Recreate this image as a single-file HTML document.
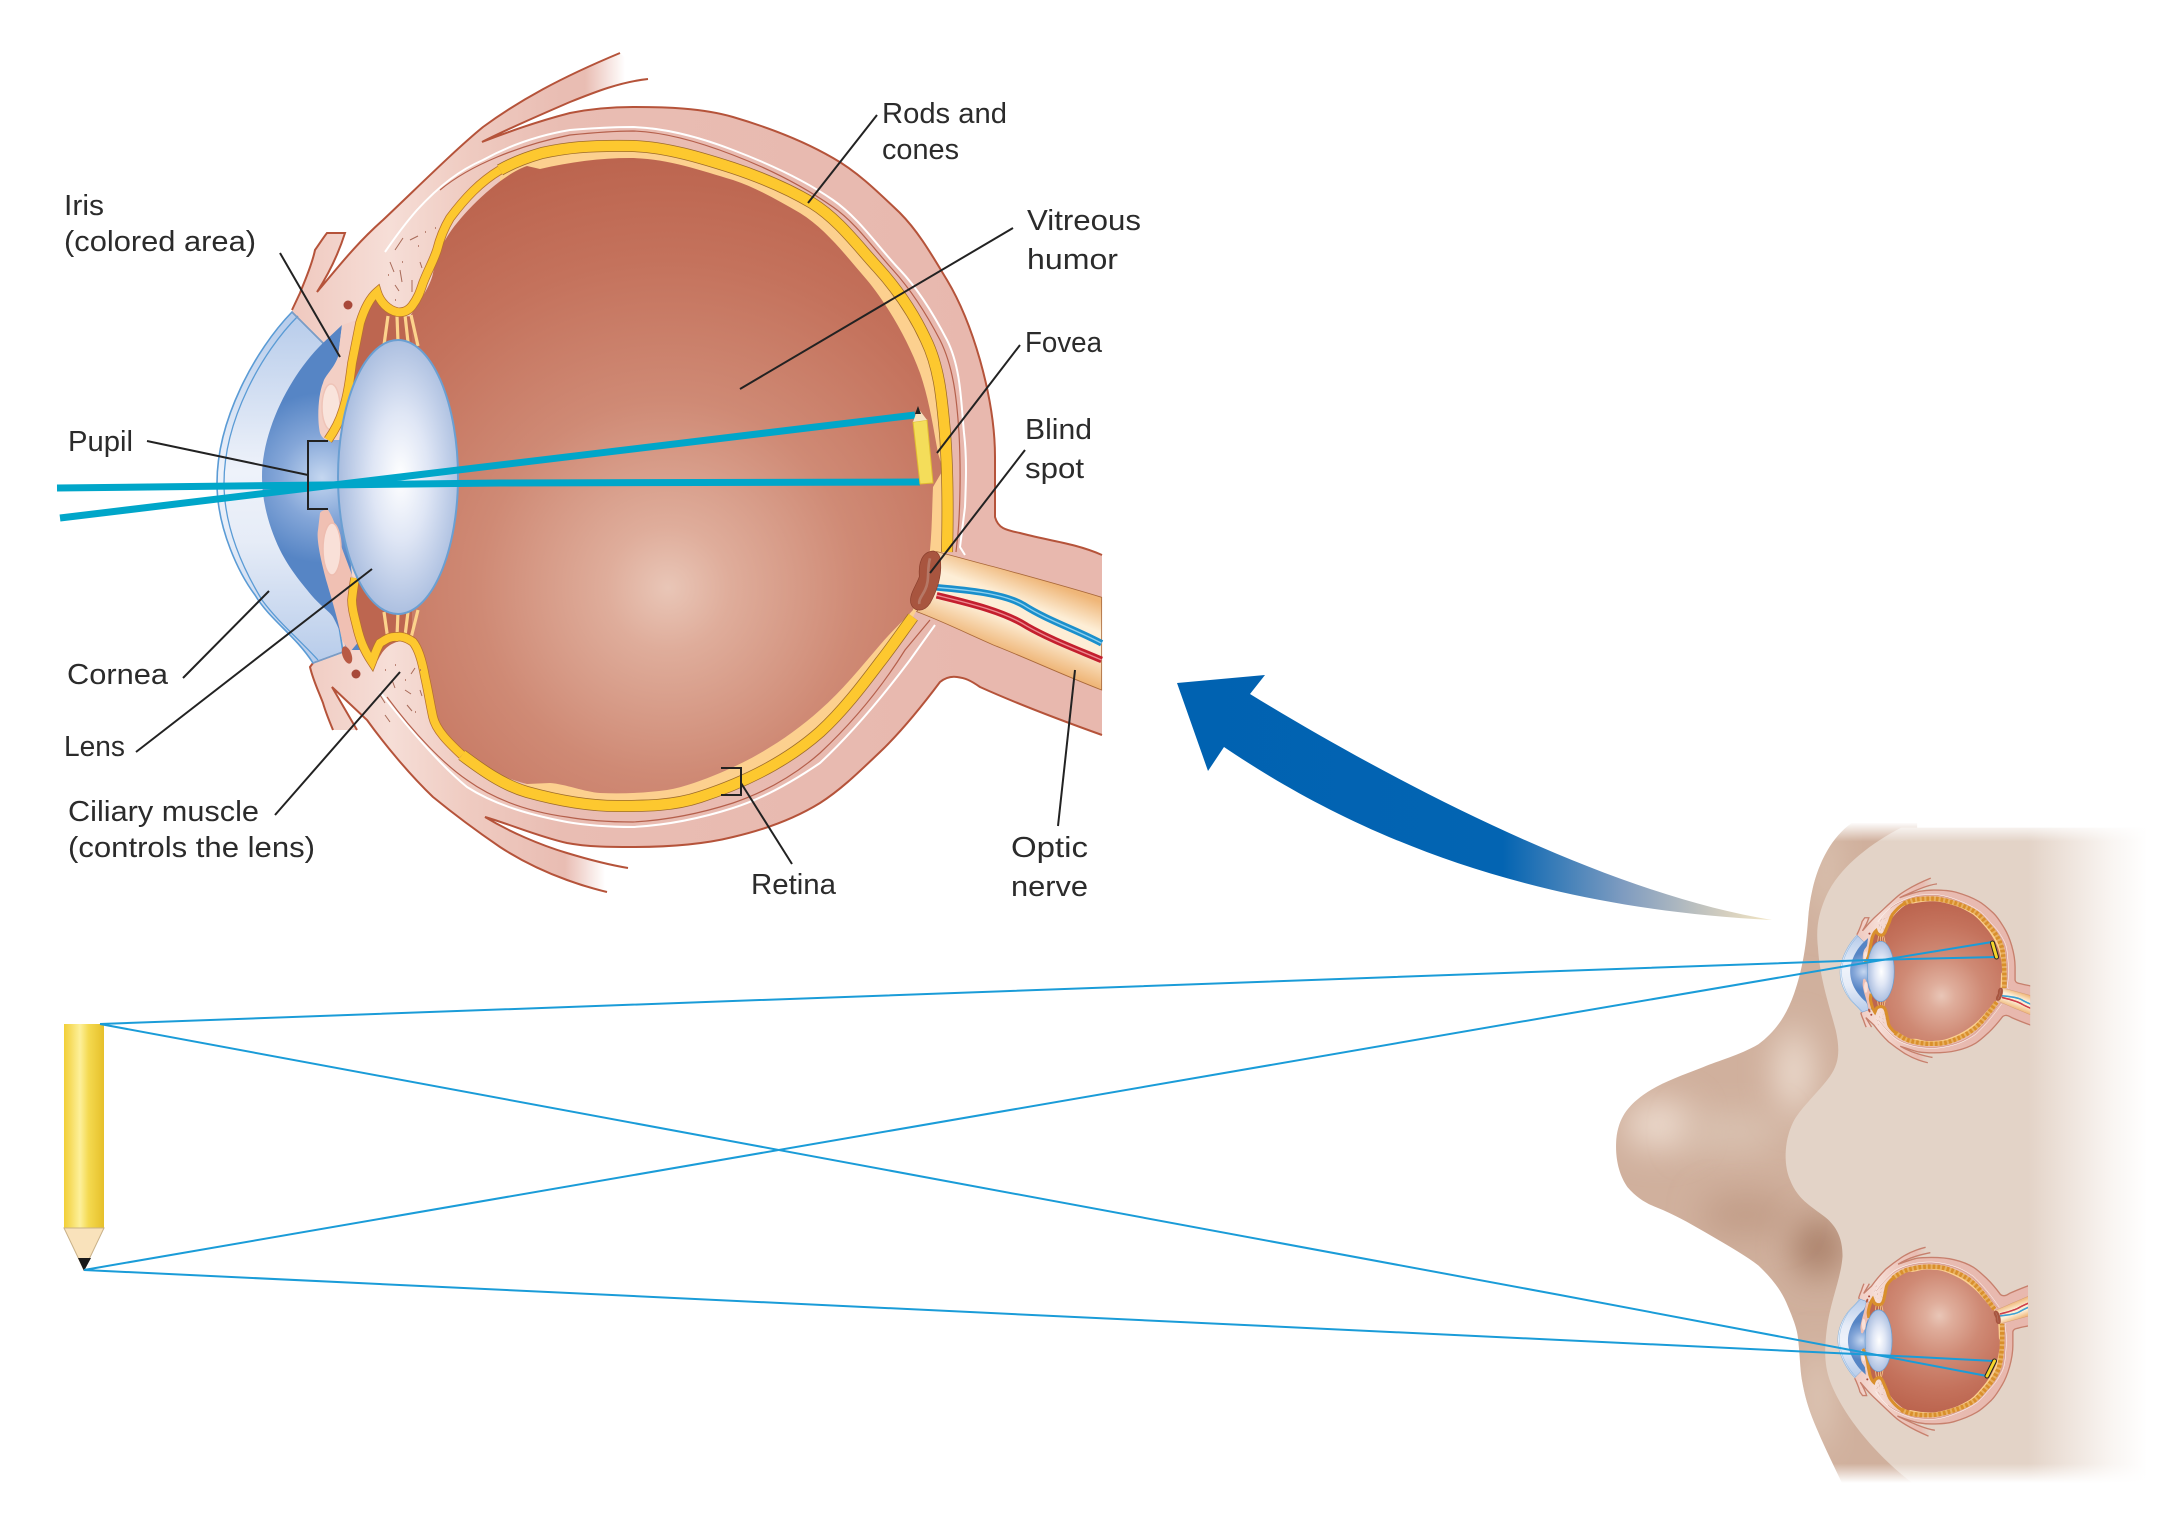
<!DOCTYPE html>
<html><head><meta charset="utf-8"><style>
html,body{margin:0;padding:0;background:#fff}
svg{display:block}
text{font-family:"Liberation Sans",sans-serif;font-size:29px;fill:#2b2b2b}
</style></head><body>
<svg width="2182" height="1523" viewBox="0 0 2182 1523" xmlns="http://www.w3.org/2000/svg">
<defs>
<linearGradient id="scl" gradientUnits="userSpaceOnUse" x1="290" y1="0" x2="1000" y2="0"><stop offset="0" stop-color="#efc8be"/><stop offset=".14" stop-color="#f6ded7"/><stop offset=".25" stop-color="#efcbc1"/><stop offset=".38" stop-color="#e9bdb3"/><stop offset="1" stop-color="#e8b8ae"/></linearGradient>
<radialGradient id="vit" gradientUnits="userSpaceOnUse" cx="668" cy="588" r="470"><stop offset="0" stop-color="#e9c6b7"/><stop offset=".13" stop-color="#dfad9b"/><stop offset=".4" stop-color="#cf8a75"/><stop offset=".7" stop-color="#c4725c"/><stop offset="1" stop-color="#b9604a"/></radialGradient>
<linearGradient id="cor" gradientUnits="userSpaceOnUse" x1="0" y1="312" x2="0" y2="665"><stop offset="0" stop-color="#b6cbea"/><stop offset=".45" stop-color="#eef2fa"/><stop offset=".65" stop-color="#e6ecf7"/><stop offset="1" stop-color="#b6cbea"/></linearGradient>
<radialGradient id="cham" gradientUnits="userSpaceOnUse" cx="322" cy="478" r="85"><stop offset="0" stop-color="#c5d7f0"/><stop offset=".5" stop-color="#84a6d8"/><stop offset="1" stop-color="#5685c5"/></radialGradient>
<radialGradient id="lens" cx=".52" cy=".5" r=".52"><stop offset="0" stop-color="#ffffff"/><stop offset=".45" stop-color="#dfe6f5"/><stop offset="1" stop-color="#a9bddf"/></radialGradient>
<linearGradient id="nerve" gradientUnits="userSpaceOnUse" x1="420" y1="575" x2="335" y2="800"><stop offset="0" stop-color="#efb678"/><stop offset=".35" stop-color="#fdeed6"/><stop offset=".6" stop-color="#fdeed6"/><stop offset="1" stop-color="#efb678"/></linearGradient>
<linearGradient id="fadeT" gradientUnits="userSpaceOnUse" x1="585" y1="0" x2="625" y2="0"><stop offset="0" stop-color="#000" stop-opacity="0"/><stop offset="1" stop-color="#000"/></linearGradient>
<linearGradient id="fadeB" gradientUnits="userSpaceOnUse" x1="565" y1="0" x2="605" y2="0"><stop offset="0" stop-color="#000" stop-opacity="0"/><stop offset="1" stop-color="#000"/></linearGradient>
<mask id="mfade" maskUnits="userSpaceOnUse" x="0" y="0" width="1103" height="1000">
 <rect x="0" y="0" width="1103" height="1000" fill="#fff"/>
 <path d="M570,40L660,40L660,79L570,104Z" fill="url(#fadeT)"/>
 <path d="M555,841L640,872L640,900L555,900Z" fill="url(#fadeB)"/>
</mask>
<clipPath id="smallclip"><rect x="0" y="0" width="1062" height="1000"/></clipPath>
<linearGradient id="arrow" gradientUnits="userSpaceOnUse" x1="1170" y1="0" x2="1775" y2="0"><stop offset="0" stop-color="#0062b1"/><stop offset=".55" stop-color="#0364b2"/><stop offset=".75" stop-color="#7f9cc0"/><stop offset=".92" stop-color="#d5cfbf"/><stop offset="1" stop-color="#f5e8c4"/></linearGradient>
<linearGradient id="pen" x1="0" y1="0" x2="1" y2="0"><stop offset="0" stop-color="#f2cf36"/><stop offset=".4" stop-color="#fdf09a"/><stop offset=".62" stop-color="#f4d94f"/><stop offset="1" stop-color="#e6c02a"/></linearGradient>
<linearGradient id="skin" gradientUnits="userSpaceOnUse" x1="1180" y1="0" x2="1480" y2="0"><stop offset="0" stop-color="#e3d3c7"/><stop offset=".3" stop-color="#ede2da"/><stop offset=".7" stop-color="#f9f5f2"/><stop offset="1" stop-color="#fff"/></linearGradient>
<linearGradient id="fT" x1="0" y1="0" x2="0" y2="1"><stop offset="0" stop-color="#fff"/><stop offset=".3" stop-color="#fff"/><stop offset="1" stop-color="#fff" stop-opacity="0"/></linearGradient>
<linearGradient id="fB" x1="0" y1="1" x2="0" y2="0"><stop offset="0" stop-color="#fff"/><stop offset=".3" stop-color="#fff"/><stop offset="1" stop-color="#fff" stop-opacity="0"/></linearGradient>
<filter id="b40" x="-100%" y="-100%" width="300%" height="300%"><feGaussianBlur stdDeviation="40"/></filter>
<clipPath id="noseclip"><path d="M735,50C670,90 632,170 625,260C620,320 610,370 590,420C570,470 540,505 500,530C450,555 400,565 360,580C300,600 250,615 210,640C170,665 148,690 142,735C138,780 150,815 170,840C200,870 230,880 260,890C300,905 340,925 380,945C430,970 470,990 500,1010C530,1035 555,1060 570,1090C590,1130 598,1150 600,1170C605,1210 605,1235 610,1260C620,1310 635,1340 650,1370C670,1410 690,1445 715,1490L900,1490L900,50Z"/></clipPath>

<path id="sclS" fill="none" d="M292,310L300,293C305,280 312,265 315,250C320,243 323,238 327,233L345,233C338,255 328,275 317,292C340,265 355,245 383,220C420,185 455,150 483,127C520,100 560,78 620,53M648,79C620,82 595,92 570,102C540,115 505,130 482,142C505,133 535,122 570,113C590,109 612,107 633,107C666,107 702,108 733,117C767,127 802,140 833,158C858,172 879,193 900,213C919,232 933,257 947,280C962,305 972,332 980,360C989,392 995,424 995,457L995,517C998,528 1005,530 1020,533C1045,540 1075,543 1102,555M1102,735C1060,720 1020,705 980,687C970,680 965,678 957,677C950,676 945,678 940,682C922,706 902,731 880,752C861,770 842,789 820,803C794,819 763,830 733,837C701,845 666,847 633,847C611,847 588,847 567,843C540,837 512,825 485,817C510,832 540,845 567,853C590,860 610,865 628,868M607,892C590,888 578,884 567,880C545,872 520,860 500,847C478,832 455,815 433,797C410,775 385,745 367,720L332,687L357,730M333,730C328,718 325,710 323,703C318,690 313,680 310,667L313,663"/>

<path id="bandF" fill="none" d="M328,440C335,430 340,420 343,410C348,395 350,378 352,363L360,323C364,310 370,298 377,292C380,302 388,310 397,312C403,313 408,311 412,306C418,298 420,292 423,283C428,270 433,262 437,250C440,238 444,228 450,218C465,198 480,182 500,170M462,755C448,742 436,730 433,717C430,703 428,690 425,677C422,660 418,648 413,642C406,637 400,636 397,637C390,636 385,640 380,643C376,650 374,657 372,662C364,650 360,640 357,627C354,615 352,608 352,600C353,590 354,585 355,578"/>
<path id="bandB" fill="none" d="M500,170C514,162 528,157 542,153C565,148 588,145 633,146C666,147 702,158 733,168C760,177 787,188 812,203C838,219 857,245 878,268C897,289 914,314 926,340C940,369 942,401 945,433C948,473 948,512 947,552M913,617C902,632 891,648 880,662C862,686 842,712 820,732C786,762 743,783 700,797C673,806 645,806 617,806C587,806 556,800 527,792C503,785 482,770 462,755"/>

<g id="eye">
 <!-- sclera fill -->
 <g mask="url(#mfade)">
 <path d="M292,310L300,293C305,280 312,265 315,250C320,243 323,238 327,233L345,233C338,255 328,275 317,292C340,265 355,245 383,220C420,185 455,150 483,127C520,100 560,78 620,53L648,79C620,82 595,92 570,102C540,115 505,130 482,142C505,133 535,122 570,113C590,109 612,107 633,107C666,107 702,108 733,117C767,127 802,140 833,158C858,172 879,193 900,213C919,232 933,257 947,280C962,305 972,332 980,360C989,392 995,424 995,457L995,517C998,528 1005,530 1020,533C1045,540 1075,543 1102,555L1102,735C1060,720 1020,705 980,687C970,680 965,678 957,677C950,676 945,678 940,682C922,706 902,731 880,752C861,770 842,789 820,803C794,819 763,830 733,837C701,845 666,847 633,847C611,847 588,847 567,843C540,837 512,825 485,817C510,832 540,845 567,853C590,860 610,865 628,868L607,892C590,888 578,884 567,880C545,872 520,860 500,847C478,832 455,815 433,797C410,775 385,745 367,720L332,687L357,730L333,730C328,718 325,710 323,703C318,690 313,680 310,667L313,663Z" fill="url(#scl)"/>
 </g>
 <use href="#sclS" stroke="#b5533a" stroke-width="2"/>
 <!-- sclera lines -->
 <path d="M385,252C400,230 410,218 417,210C440,185 460,170 483,160C510,145 540,135 570,130C595,128 615,127 633,127C666,128 702,138 733,150C767,163 803,179 833,200C859,218 878,247 900,270C919,290 934,315 947,340C961,368 961,402 964,433C967,458 966,482 965,507L960,547L965,555" fill="none" stroke="#fff" stroke-width="2"/>
 <path d="M440,190C470,165 520,145 570,135C600,132 620,131 633,131C666,132 702,143 733,155C767,168 803,186 833,207C856,223 873,248 893,270C912,291 927,315 940,340C954,368 957,402 959,433C961,470 960,510 958,533L956,552" fill="none" stroke="#b5604c" stroke-width="1.2"/>
 <path d="M380,692C410,730 440,765 467,787C495,805 530,815 567,822C590,826 610,827 633,827C670,825 705,817 733,808C765,798 795,780 820,763C850,735 880,700 910,660L935,625" fill="none" stroke="#fff" stroke-width="2"/>
 <path d="M387,697C415,735 445,765 467,780C495,800 530,812 567,817C590,821 610,822 633,822C670,820 705,812 733,803C765,792 795,775 820,753C850,725 880,690 905,650L930,620" fill="none" stroke="#b5604c" stroke-width="1.2"/>
 <!-- cornea -->
 <path d="M292,312C255,350 217,420 217,483C217,530 240,575 255,595C270,620 295,635 313,663L343,652L338,620L320,520L320,440L323,343Z" fill="url(#cor)" stroke="#5a9bd5" stroke-width="1.6"/>
 <path d="M298,316C262,352 224,420 224,483C224,530 245,572 262,600C278,622 300,640 318,660" fill="none" stroke="#5a9bd5" stroke-width="1.3"/>
 <path d="M292,312L323,343M313,663L343,652" stroke="#7c9cc4" stroke-width="1.5"/>
 <!-- chamber -->
 <path d="M342,325L323,343C290,375 262,430 262,477C262,500 268,525 280,550C290,570 303,585 313,597C322,607 330,612 333,617C340,630 343,640 347,650L360,650L345,510L340,510L340,440L330,440L338,357Z" fill="url(#cham)"/>
 <!-- iris -->
 <path d="M342,325L338,357C333,370 325,375 323,383C318,395 317,420 320,433C322,438 325,440 328,440C335,430 340,420 343,410L352,363L357,320Z" fill="#f3cfc5"/>
 <ellipse cx="331" cy="407" rx="9" ry="23" fill="#f9e4dc" stroke="#efc4b8" stroke-width="1.5"/>
 <path d="M320,513C322,510 325,510 328,510C335,520 338,535 340,543L352,575L350,600L360,640L350,652L342,640C338,620 332,600 327,583C322,565 316,540 318,530Z" fill="#f0c0b3"/>
 <ellipse cx="332" cy="549" rx="9" ry="26" fill="#f9e0d8" stroke="#eebdb0" stroke-width="1.5"/>
 <ellipse cx="347" cy="655" rx="4.5" ry="9" transform="rotate(-20 347 655)" fill="#b85a45"/>
 <circle cx="348" cy="305" r="4.5" fill="#a8493a"/>
 <circle cx="356" cy="674" r="4.5" fill="#a8493a"/>
 <!-- retina layer -->
 <path d="M500,170C514,162 528,157 542,153C565,148 588,145 633,146C666,147 702,158 733,168C760,177 787,188 812,203C838,219 857,245 878,268C897,289 914,314 926,340C940,369 942,401 945,433C948,473 948,512 947,552L913,617C902,632 891,648 880,662C862,686 842,712 820,732C786,762 743,783 700,797C673,806 645,806 617,806C587,806 556,800 527,792L500,700L500,200Z" fill="#fcd08f"/>
 <!-- vitreous -->
 <path d="M410,316C425,295 432,280 433,273C438,255 442,245 447,237C460,215 500,175 527,166L540,169C570,162 600,158 630,158C665,158 700,170 733,180C757,188 779,201 800,213C826,229 847,257 867,280C887,304 908,340 920,373C929,399 933,426 938,453L943,470L933,487C932,510 932,530 930,550L913,610C902,622 890,633 880,645C861,667 842,691 820,710C791,736 756,758 720,773C703,780 685,787 667,790C645,793 622,794 600,793C585,792 565,784 550,783L527,784C505,778 485,770 467,757C450,740 438,725 428,707C425,690 422,665 415,645L410,640Z" fill="url(#vit)"/>
 <!-- posterior chamber -->
 <path d="M340,440C345,415 352,385 356,350C360,325 370,305 377,298C383,312 395,318 412,316L412,640C395,640 385,645 378,660C372,665 362,640 356,610L356,578Z" fill="#bd6650"/>
 <!-- zonules -->
 <g stroke="#fcd38c" stroke-width="3.2" fill="none">
  <path d="M388,316L384,345M397,316L398,342M405,315L408,342M411,315L418,346M384,612L388,640M398,612L397,636M408,612L405,636M418,610L411,638"/>
 </g>
 <!-- yellow band -->
 <use href="#bandF" stroke="#b5702e" stroke-width="9.5"/>
 <use href="#bandB" stroke="#9c6a2a" stroke-width="12"/>
 <use href="#bandB" stroke="#fdc82f" stroke-width="10.5"/>
 <use href="#bandF" stroke="#fdc82f" stroke-width="8"/>
 <!-- speckles -->
 <path d="M390,262l4,10M395,250l8,-12M410,240l8,-4M400,270l2,12M395,285l4,6M412,280l0,12M420,262l2,6M380,695l5,8M385,715l5,7M405,690l6,4M407,705l5,6M392,680l3,8M415,668l-4,6M420,690l2,6" stroke="#a86a58" stroke-width="1" fill="none"/>
 <path d="M395,300h1M402,262h1M418,246h1M425,232h1M435,228h1M388,275h1M405,680h1M395,665h1M420,670h1M385,670h1M415,712h1" stroke="#a86a58" stroke-width="1.4" fill="none"/>
 <!-- optic nerve -->
 <g transform="translate(880,380) scale(.3333)">
  <path d="M170,515C230,530 280,545 340,560C450,590 560,620 665,652L665,930C560,890 430,830 340,795C260,760 190,725 110,695L150,640Z" fill="url(#nerve)" stroke="#a9683a" stroke-width="2.5"/>
  <path d="M170,622C260,630 370,640 430,675C500,720 590,750 665,790" fill="none" stroke="#1a8fcc" stroke-width="20"/>
  <path d="M170,622C260,630 370,640 430,675C500,720 590,750 665,790" fill="none" stroke="#8fd0ee" stroke-width="4"/>
  <path d="M170,646C260,668 370,693 440,738C510,778 590,808 665,840" fill="none" stroke="#c41f2e" stroke-width="20"/>
  <path d="M170,646C260,668 370,693 440,738C510,778 590,808 665,840" fill="none" stroke="#ec8a90" stroke-width="4"/>
  <path d="M160,513C125,515 115,550 118,590C110,615 88,640 92,668C98,695 130,700 150,670C170,635 185,590 182,550C182,530 175,515 160,513Z" fill="#a8553f" stroke="#8a3f2d" stroke-width="2"/>
  <path d="M150,535C140,570 150,600 135,630C125,650 115,660 118,672" fill="none" stroke="#c08f80" stroke-width="8" opacity=".6"/>
 </g>
 <!-- lens -->
 <ellipse cx="398" cy="477" rx="60" ry="137" fill="url(#lens)" stroke="#6a9fd2" stroke-width="2"/>
</g>

<g id="ov">
 <use href="#bandB" stroke="#e8b060" stroke-width="20"/>
 <use href="#bandB" stroke="#d98f2c" stroke-width="20" stroke-dasharray="12 9"/>
 <use href="#bandF" stroke="#d98f2c" stroke-width="14"/>
 <use href="#sclS" stroke="#c7806d" stroke-width="6"/>
</g>
</defs>

<!-- face -->
<g transform="translate(1560,800) scale(.39683,.46083)">
 <path d="M735,50C670,90 632,170 625,260C620,320 610,370 590,420C570,470 540,505 500,530C450,555 400,565 360,580C300,600 250,615 210,640C170,665 148,690 142,735C138,780 150,815 170,840C200,870 230,880 260,890C300,905 340,925 380,945C430,970 470,990 500,1010C530,1035 555,1060 570,1090C590,1130 598,1150 600,1170C605,1210 605,1235 610,1260C620,1310 635,1340 650,1370C670,1410 690,1445 715,1490L900,1490L900,50Z" fill="#d0b09d"/>
 <g clip-path="url(#noseclip)">
  <ellipse cx="250" cy="705" rx="90" ry="45" fill="#f0e0d4" filter="url(#b40)"/>
  <ellipse cx="590" cy="590" rx="50" ry="90" fill="#ebdacd" filter="url(#b40)"/>
  <ellipse cx="430" cy="720" rx="130" ry="35" fill="#dcc6b6" filter="url(#b40)"/>
  <ellipse cx="650" cy="970" rx="70" ry="60" fill="#a97f68" filter="url(#b40)"/>
  <ellipse cx="470" cy="900" rx="120" ry="40" fill="#bf9a84" filter="url(#b40)"/>
  <ellipse cx="650" cy="1300" rx="30" ry="110" fill="#e2cdbd" filter="url(#b40)"/>
  <ellipse cx="670" cy="150" rx="30" ry="110" fill="#dcc5b3" filter="url(#b40)"/>
 </g>
 <path d="M860,60C780,95 700,150 670,210C650,250 645,280 650,320C655,390 680,450 695,500C705,540 705,570 680,600C650,635 610,665 590,695C565,735 562,790 580,825C600,870 640,885 675,910C700,930 712,955 712,990C708,1040 680,1090 672,1150C665,1200 668,1230 680,1260C710,1330 790,1420 900,1490L1480,1480L1480,60Z" fill="url(#skin)"/>
 <rect x="600" y="30" width="900" height="60" fill="url(#fT)"/>
 <rect x="600" y="1440" width="900" height="60" fill="url(#fB)"/>
</g>

<!-- small eyes -->
<g transform="translate(1791.2,866.5) scale(.225,.22)"><g clip-path="url(#smallclip)"><use href="#eye"/><use href="#ov"/><ellipse cx="398" cy="477" rx="60" ry="137" fill="url(#lens)" stroke="#6a9fd2" stroke-width="3"/></g></g>
<g transform="translate(1789,1448) scale(.225,-.225)"><g clip-path="url(#smallclip)"><use href="#eye"/><use href="#ov"/><ellipse cx="398" cy="477" rx="60" ry="137" fill="url(#lens)" stroke="#6a9fd2" stroke-width="3"/></g></g>

<!-- main eye -->
<use href="#eye"/>

<!-- big arrow -->
<path d="M1177,683L1265,675L1250,694C1394,782 1605,893 1772,920C1508,907 1338,824 1224,747L1208,771Z" fill="url(#arrow)"/>

<!-- rays on main eye -->
<g fill="none" stroke="#00a6c9" stroke-width="7">
 <path d="M57,488L500,483L920,482"/>
 <path d="M60,518L915,415"/>
</g>
<!-- tiny pencil in eye -->
<path d="M913,422L927,420L933,483L920,484Z" fill="#f4dd5a" stroke="#e0bb30" stroke-width="1"/>
<path d="M913,422L918,408L927,420Z" fill="#f6e2c0"/>
<path d="M915,414L918,406L921,414Z" fill="#222"/>

<!-- leaders -->
<g fill="none" stroke="#222" stroke-width="2">
 <path d="M280,253L340,357"/>
 <path d="M147,441L308,475"/>
 <path d="M328,441L308,441L308,509L328,509"/>
 <path d="M183,678L269,591"/>
 <path d="M136,752L372,569"/>
 <path d="M275,815L400,672"/>
 <path d="M877,115L808,203"/>
 <path d="M1013,228L740,389"/>
 <path d="M1020,345L937,453"/>
 <path d="M1025,450L930,573"/>
 <path d="M1058,826L1075,670"/>
 <path d="M721,768L741,768L741,795L721,795"/>
 <path d="M741,783L792,864"/>
</g>

<!-- big pencil -->
<rect x="64" y="1024" width="40" height="204" fill="url(#pen)"/>
<path d="M64,1228L104,1228L84,1270Z" fill="#f9e2bb" stroke="#c9b188" stroke-width="1"/>
<path d="M78,1258L91,1258L84,1271Z" fill="#1a1a1a"/>

<!-- sight lines -->
<g fill="none" stroke="#1a9cd8" stroke-width="2">
 <path d="M100,1024L1560,971L1870,960L1997,957"/>
 <path d="M84,1270L1560,1015L1870,962L1992,942"/>
 <path d="M100,1024L1560,1295L1877,1355L1987,1376"/>
 <path d="M84,1270L1560,1340L1877,1355L1994,1361"/>
</g>
<!-- small pencils -->
<path d="M1992.5,943L1996.5,957" stroke="#222" stroke-width="5" stroke-linecap="round"/>
<path d="M1992.5,943L1996.5,957" stroke="#f5d52a" stroke-width="3" stroke-linecap="round"/>
<path d="M1994.5,1361L1987,1376" stroke="#222" stroke-width="5" stroke-linecap="round"/>
<path d="M1994.5,1361L1987,1376" stroke="#f5d52a" stroke-width="3" stroke-linecap="round"/>

<!-- labels -->
<text x="64" y="215" textLength="40" lengthAdjust="spacingAndGlyphs">Iris</text>
<text x="64" y="251" textLength="192" lengthAdjust="spacingAndGlyphs">(colored area)</text>
<text x="68" y="451" textLength="65" lengthAdjust="spacingAndGlyphs">Pupil</text>
<text x="67" y="684" textLength="101" lengthAdjust="spacingAndGlyphs">Cornea</text>
<text x="64" y="756" textLength="61" lengthAdjust="spacingAndGlyphs">Lens</text>
<text x="68" y="821" textLength="191" lengthAdjust="spacingAndGlyphs">Ciliary muscle</text>
<text x="68" y="857" textLength="247" lengthAdjust="spacingAndGlyphs">(controls the lens)</text>
<text x="882" y="123" textLength="125" lengthAdjust="spacingAndGlyphs">Rods and</text>
<text x="882" y="159" textLength="77" lengthAdjust="spacingAndGlyphs">cones</text>
<text x="1027" y="230" textLength="114" lengthAdjust="spacingAndGlyphs">Vitreous</text>
<text x="1027" y="269" textLength="91" lengthAdjust="spacingAndGlyphs">humor</text>
<text x="1025" y="352" textLength="77" lengthAdjust="spacingAndGlyphs">Fovea</text>
<text x="1025" y="439" textLength="67" lengthAdjust="spacingAndGlyphs">Blind</text>
<text x="1025" y="478" textLength="59" lengthAdjust="spacingAndGlyphs">spot</text>
<text x="751" y="894" textLength="85" lengthAdjust="spacingAndGlyphs">Retina</text>
<text x="1011" y="857" textLength="77" lengthAdjust="spacingAndGlyphs">Optic</text>
<text x="1011" y="896" textLength="77" lengthAdjust="spacingAndGlyphs">nerve</text>
</svg>
</body></html>
